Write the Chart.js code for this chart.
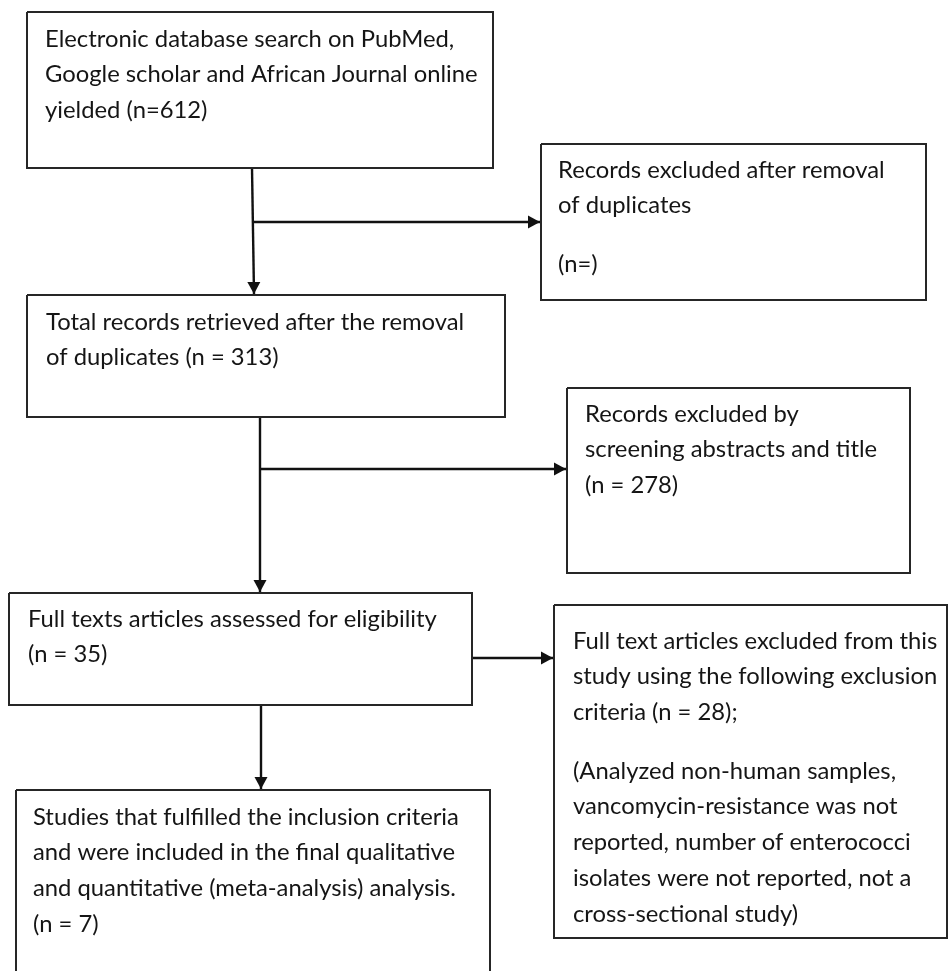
<!DOCTYPE html>
<html>
<head>
<meta charset="utf-8">
<script src="https://cdn.jsdelivr.net/npm/chart.js@4.4.1/dist/chart.umd.min.js"></script>
<style>
  html, body { margin: 0; background: #fff; }
  canvas { display: block; }
</style>
</head>
<body>
<canvas id="flow" width="949" height="971"></canvas>
<script>
'use strict';

// Box texts (paragraphs of lines), in reading order
const searchText    = [['Electronic database search on PubMed,', 'Google scholar and African Journal online', 'yielded (n=612)']];
const dupText       = [['Records excluded after removal', 'of duplicates'], ['(n=)']];
const retrievedText = [['Total records retrieved after the removal', 'of duplicates (n = 313)']];
const screenText    = [['Records excluded by', 'screening abstracts and title', '(n = 278)']];
const fullText      = [['Full texts articles assessed for eligibility', '(n = 35)']];
const excludedText  = [['Full text articles excluded from this', 'study using the following exclusion', 'criteria (n = 28);'],
                       ['(Analyzed non-human samples,', 'vancomycin-resistance was not', 'reported, number of enterococci', 'isolates were not reported, not a', 'cross-sectional study)']];
const includedText  = [['Studies that fulfilled the inclusion criteria', 'and were included in the final qualitative', 'and quantitative (meta-analysis) analysis.', '(n = 7)']];

// Layout in axis units (x 0..949, y 0..971 top-down)
const boxes = [
  { rect: [27, 12, 493, 168],   text: searchText,    tx: 45,  ty: 39 },
  { rect: [541, 144, 926, 300], text: dupText,       tx: 558, ty: 170 },
  { rect: [27, 295, 505, 417],  text: retrievedText, tx: 46,  ty: 322 },
  { rect: [567, 388, 910, 573], text: screenText,    tx: 585, ty: 414 },
  { rect: [9, 593, 472, 705],   text: fullText,      tx: 28,  ty: 619 },
  { rect: [554, 605, 947, 938], text: excludedText,  tx: 573, ty: 641 },
  { rect: [16, 790, 490, 980],  text: includedText,  tx: 33,  ty: 817 }
];

// Connectors: list of points, arrowhead at the last one
const arrows = [
  [[252, 168], [254, 294]],
  [[253, 222], [540, 222]],
  [[260, 417], [260, 592]],
  [[260, 469], [566, 469]],
  [[472, 658], [553, 658]],
  [[261, 705], [261, 789]]
];

const LINE_STEP = 35.7;
const PARA_GAP = 23;
const INK = '#151515';

const datasets = [
  ...boxes.map(b => {
    const [x0, y0, x1, y1] = b.rect;
    return {
      data: [{ x: x0, y: y0 }, { x: x1, y: y0 }, { x: x1, y: y1 }, { x: x0, y: y1 }, { x: x0, y: y0 }],
      borderColor: '#262626',
      borderWidth: 2,
      borderJoinStyle: 'miter',
      pointRadius: 0,
      showLine: true,
      tension: 0
    };
  }),
  ...arrows.map(a => ({
    data: a.map(([x, y]) => ({ x, y })),
    borderColor: '#111',
    borderWidth: 2.4,
    pointRadius: 0,
    showLine: true,
    tension: 0
  }))
];

const flowPlugin = {
  id: 'flowText',
  afterDatasetsDraw(chart) {
    const { ctx, scales: { x, y } } = chart;
    ctx.save();

    // arrowheads
    ctx.fillStyle = '#111';
    arrows.forEach(a => {
      const [px, py] = a[a.length - 2];
      const [ex, ey] = a[a.length - 1];
      const tx = x.getPixelForValue(ex), ty = y.getPixelForValue(ey);
      const ang = Math.atan2(ty - y.getPixelForValue(py), tx - x.getPixelForValue(px));
      const len = 12, half = 6.5;
      ctx.beginPath();
      ctx.moveTo(tx, ty);
      ctx.lineTo(tx - len * Math.cos(ang) + half * Math.sin(ang), ty - len * Math.sin(ang) - half * Math.cos(ang));
      ctx.lineTo(tx - len * Math.cos(ang) - half * Math.sin(ang), ty - len * Math.sin(ang) + half * Math.cos(ang));
      ctx.closePath();
      ctx.fill();
    });

    // box texts
    ctx.fillStyle = INK;
    ctx.font = '23.8px Lato, "Open Sans", sans-serif';
    ctx.textBaseline = 'middle';
    ctx.textAlign = 'left';
    boxes.forEach(b => {
      let yy = b.ty;
      b.text.forEach((para, pi) => {
        if (pi > 0) yy += PARA_GAP;
        para.forEach(line => {
          ctx.fillText(line, x.getPixelForValue(b.tx), y.getPixelForValue(yy));
          yy += LINE_STEP;
        });
      });
    });
    ctx.restore();
  }
};

new Chart(document.getElementById('flow'), {
  type: 'scatter',
  data: { datasets },
  options: {
    responsive: false,
    animation: false,
    events: [],
    layout: { padding: 0 },
    plugins: { legend: { display: false }, tooltip: { enabled: false } },
    scales: {
      x: { type: 'linear', min: 0, max: 949, display: false },
      y: { type: 'linear', min: 0, max: 971, reverse: true, display: false }
    }
  },
  plugins: [flowPlugin]
});
</script>
</body>
</html>
